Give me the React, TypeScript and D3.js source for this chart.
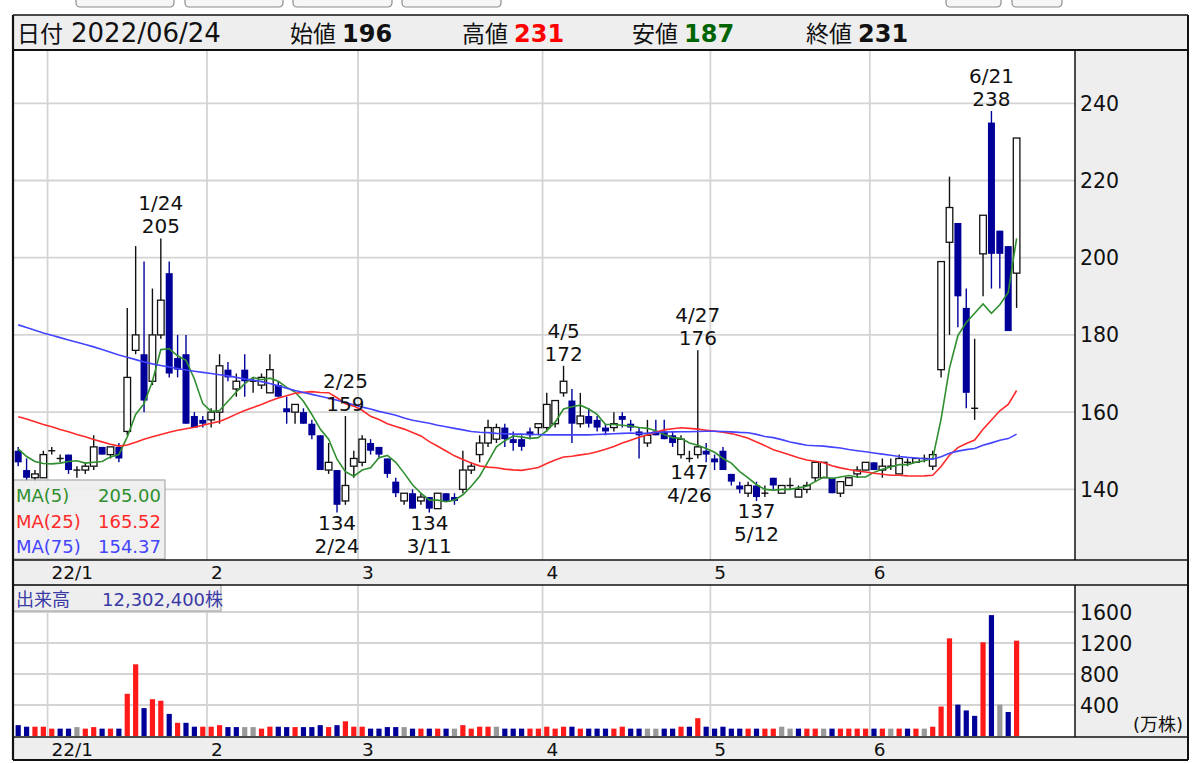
import React from 'react'
import * as d3 from 'd3'

// trading days shown on the chart
const dates = [
  '2021-12-27', '2021-12-28', '2021-12-29', '2021-12-30',
  '2022-01-04', '2022-01-05', '2022-01-06', '2022-01-07', '2022-01-11', '2022-01-12', '2022-01-13', '2022-01-14',
  '2022-01-17', '2022-01-18', '2022-01-19', '2022-01-20', '2022-01-21', '2022-01-24', '2022-01-25', '2022-01-26',
  '2022-01-27', '2022-01-28', '2022-01-31',
  '2022-02-01', '2022-02-02', '2022-02-03', '2022-02-04', '2022-02-07', '2022-02-08', '2022-02-09', '2022-02-10',
  '2022-02-14', '2022-02-15', '2022-02-16', '2022-02-17', '2022-02-18', '2022-02-21', '2022-02-22', '2022-02-24',
  '2022-02-25', '2022-02-28',
  '2022-03-01', '2022-03-02', '2022-03-03', '2022-03-04', '2022-03-07', '2022-03-08', '2022-03-09', '2022-03-10',
  '2022-03-11', '2022-03-14', '2022-03-15', '2022-03-16', '2022-03-17', '2022-03-18', '2022-03-22', '2022-03-23',
  '2022-03-24', '2022-03-25', '2022-03-28', '2022-03-29', '2022-03-30', '2022-03-31',
  '2022-04-01', '2022-04-04', '2022-04-05', '2022-04-06', '2022-04-07', '2022-04-08', '2022-04-11', '2022-04-12',
  '2022-04-13', '2022-04-14', '2022-04-15', '2022-04-18', '2022-04-19', '2022-04-20', '2022-04-21', '2022-04-22',
  '2022-04-25', '2022-04-26', '2022-04-27', '2022-04-28',
  '2022-05-02', '2022-05-06', '2022-05-09', '2022-05-10', '2022-05-11', '2022-05-12', '2022-05-13', '2022-05-16',
  '2022-05-17', '2022-05-18', '2022-05-19', '2022-05-20', '2022-05-23', '2022-05-24', '2022-05-25', '2022-05-26',
  '2022-05-27', '2022-05-30', '2022-05-31',
  '2022-06-01', '2022-06-02', '2022-06-03', '2022-06-06', '2022-06-07', '2022-06-08', '2022-06-09', '2022-06-10',
  '2022-06-13', '2022-06-14', '2022-06-15', '2022-06-16', '2022-06-17', '2022-06-20', '2022-06-21', '2022-06-22',
  '2022-06-23', '2022-06-24',
]

const opens = [
  150, 145, 143, 143, 150, 148, 149, 145, 145, 146, 151, 149, 151, 155, 176, 175, 168, 180, 196, 174,
  175, 159, 158, 158, 160, 171, 166, 171, 168, 167, 165, 167, 161, 160, 160, 157, 154, 145, 145, 137,
  146, 147, 152, 151, 148, 142, 137, 139, 137, 138, 135, 139, 138, 140, 145, 149, 152, 153, 156, 153,
  153, 155, 156, 156, 157, 165, 163, 157, 159, 158, 156, 156, 159, 157, 155, 152, 155, 155, 154, 149,
  148, 149, 150, 148, 150, 144, 141, 139, 141, 139, 143, 139, 141, 138, 140, 143, 143, 143, 139, 141,
  144, 145, 147, 145, 146, 144, 147, 147, 148, 146, 171, 204, 209, 187, 161, 201, 235, 207, 203, 196,
]
const highs = [
  151, 148, 145, 150, 151, 149, 149, 146, 147, 154, 151, 151, 152, 187, 203, 199, 192, 205, 199, 180,
  180, 160, 159, 161, 175, 173, 170, 175, 169, 170, 175, 168, 164, 162, 161, 158, 154, 152, 145, 159,
  150, 154, 153, 151, 148, 143, 139, 140, 139, 138, 139, 139, 139, 150, 147, 154, 158, 157, 157, 155,
  154, 156, 157, 165, 163, 172, 166, 165, 161, 159, 157, 160, 160, 158, 156, 158, 158, 158, 155, 154,
  150, 176, 152, 149, 151, 144, 142, 142, 142, 141, 143, 141, 143, 141, 142, 147, 147, 143, 142, 143,
  146, 147, 147, 148, 148, 149, 148, 148, 149, 150, 199, 221, 209, 192, 179, 211, 238, 207, 203, 231,
]
const lows = [
  146, 142, 142, 143, 149, 147, 144, 143, 144, 145, 149, 148, 147, 154, 175, 160, 167, 179, 169, 169,
  157, 156, 156, 156, 157, 168, 164, 164, 165, 166, 165, 164, 157, 157, 157, 153, 145, 144, 134, 136,
  143, 146, 149, 148, 143, 138, 136, 135, 136, 134, 135, 137, 136, 139, 144, 147, 151, 152, 151, 150,
  150, 153, 154, 155, 156, 164, 152, 156, 156, 155, 154, 155, 156, 155, 148, 151, 154, 153, 151, 148,
  147, 148, 147, 145, 145, 141, 139, 138, 137, 138, 140, 139, 140, 138, 139, 142, 143, 139, 138, 141,
  143, 145, 145, 143, 145, 144, 146, 147, 147, 145, 169, 180, 182, 161, 158, 190, 192, 192, 181, 187,
]
const closes = [
  147, 143, 144, 149, 150, 148, 145, 145, 146, 151, 149, 151, 148, 169, 180, 163, 180, 189, 170, 171,
  157, 156, 157, 160, 172, 169, 168, 168, 168, 169, 171, 164, 160, 162, 157, 154, 145, 147, 136, 141,
  148, 153, 150, 149, 144, 139, 139, 135, 138, 135, 139, 137, 137, 145, 146, 152, 156, 156, 153, 152,
  151, 154, 157, 162, 163, 168, 157, 159, 157, 156, 155, 157, 158, 156, 154, 154, 154, 153, 152, 153,
  148, 151, 149, 147, 145, 142, 140, 141, 138, 139, 141, 141, 141, 140, 141, 147, 147, 139, 142, 143,
  145, 147, 145, 146, 146, 148, 147, 148, 148, 149, 199, 213, 190, 165, 161, 211, 201, 201, 181, 231,
]
// volume, 万株
const volumes = [
  140, 120, 120, 120, 95, 95, 95, 115, 95, 115, 95, 95, 95, 545, 925, 360, 475, 455, 285, 170,
  170, 120, 120, 120, 140, 115, 115, 115, 115, 95, 120, 120, 115, 115, 115, 115, 140, 115, 140, 190,
  120, 120, 95, 95, 115, 115, 115, 95, 95, 95, 95, 95, 95, 140, 95, 120, 120, 120, 95, 95,
  95, 95, 95, 120, 95, 120, 120, 95, 95, 95, 95, 95, 120, 95, 95, 95, 95, 95, 95, 120,
  120, 230, 120, 95, 120, 95, 95, 95, 95, 95, 95, 120, 95, 95, 95, 95, 95, 95, 95, 95,
  95, 95, 95, 95, 95, 95, 95, 95, 95, 120, 380, 1260, 405, 330, 260, 1210, 1560, 405, 310, 1230,
]

const ma5Head = [150.5, 148.5, 147.2, 146.7]
const ma25Head = [
  158.8, 158.2, 157.5, 156.8, 156.2, 155.5, 154.9, 154.2, 153.6, 152.9, 152.3, 151.7,
  151.2, 151.5, 152.2, 153.0, 153.6, 154.2, 154.8, 155.3, 155.7, 156.1, 156.6, 157.1,
]
const ma75Head = [
  182.6, 181.9, 181.2, 180.5, 179.9, 179.3, 178.7, 178.1, 177.5, 176.9,
  176.2, 175.5, 174.8, 174.2, 173.6, 173.0, 172.5, 172.1, 171.7, 171.3,
  170.9, 170.6, 170.3, 170.0, 169.7, 169.4, 169.0, 168.6, 168.3, 167.9,
  167.4, 166.8, 166.2, 165.6, 165.1, 164.6, 164.1, 163.6, 163.1, 162.5,
  161.9, 161.3, 160.8, 160.2, 159.7, 159.2, 158.5, 157.9, 157.5, 157.1,
  156.6, 156.2, 155.8, 155.4, 155.0, 154.8, 154.7, 154.5, 154.4, 154.3,
  154.3, 154.2, 154.2, 154.1, 154.1, 154.1, 154.1, 154.1, 154.1, 154.2,
  154.3, 154.4, 154.5, 154.6,
]

const maPeriods = [5, 25, 75]
const maLegendValues = ['205.00', '165.52', '154.37']
const priceTicks = [140, 160, 180, 200, 220, 240]
const volumeTicks = [400, 800, 1200, 1600]
const highMarks = ['2022-01-24', '2022-02-25', '2022-04-05', '2022-04-27', '2022-06-21']
const lowMarks = ['2022-02-24', '2022-03-11', '2022-04-26', '2022-05-12']
const lastVolumeShares = 12302400
const headerLabels = ['日付', '始値', '高値', '安値', '終値']

const FONT = "'DejaVu Sans', 'Noto Sans CJK JP', sans-serif"
const BLUE = '#000099'
const RED = '#ff1a1a'
const GRID = '#d4d4d4'
const MA_COLORS = ['#2f8f2f', '#ff2a2a', '#4444ff']

function movingAverage(period: number, head: number[]) {
  return closes.map((_, i) => {
    if (i < head.length) return head[i]
    return d3.mean(closes.slice(i - period + 1, i + 1)) as number
  })
}

export default function App() {
  const n = dates.length
  const step = 8.39
  const left = 13, plotRight = 1075, right = 1188
  const mainTop = 50, mainBottom = 560, band1Bottom = 585, volBottom = 737, band2Bottom = 760

  const x = d3.scaleBand<string>().domain(dates).range([14, 14 + step * n])
  const cx = (i: number) => (x(dates[i]) as number) + x.bandwidth() / 2
  const y = d3.scaleLinear().domain([121.7, 253.8]).range([mainBottom, mainTop])
  const yv = d3.scaleLinear().domain([0, 1600]).range([736, 612])

  const maSeries = [
    movingAverage(maPeriods[0], ma5Head),
    movingAverage(maPeriods[1], ma25Head),
    movingAverage(maPeriods[2], ma75Head),
  ]
  const line = d3.line<number>().x((_, i) => cx(i)).y(d => y(d))

  const monthStarts = dates
    .map((_, i) => i)
    .filter(i => i > 0 && dates[i].slice(5, 7) !== dates[i - 1].slice(5, 7))
  const monthLabel = (d: string) =>
    d.slice(5, 7) === '01' ? `${d.slice(2, 4)}/${+d.slice(5, 7)}` : `${+d.slice(5, 7)}`
  const shortDate = (d: string) => `${+d.slice(5, 7)}/${+d.slice(8, 10)}`

  const volColor = (i: number) => {
    const prev = i === 0 ? opens[0] : closes[i - 1]
    if (closes[i] > prev) return RED
    if (closes[i] < prev) return BLUE
    return '#999999'
  }

  const last = n - 1
  const headerValues = [
    dates[last].replace(/-/g, '/'),
    String(opens[last]),
    String(highs[last]),
    String(lows[last]),
    String(closes[last]),
  ]
  const headerColors = ['#111', '#111', '#ff0000', '#006400', '#111']
  const headerX = [17, 290, 462, 632, 806]

  const buttons = [[76, 98], [185, 98], [293, 99], [402, 99], [946, 55], [1012, 50]]

  return (
    <svg width={1200} height={763} style={{ position: 'absolute', left: 0, top: 0, background: '#fff' }}>
      {/* partially visible buttons */}
      {buttons.map(([bx, bw], i) => (
        <rect key={i} x={bx} y={-14} width={bw} height={21} rx={4} fill="#f6f6f6" stroke="#8c8c8c" strokeWidth={1.2} />
      ))}

      {/* header */}
      <rect x={left} y={15} width={right - left} height={mainTop - 15} fill="#eeeeee" />
      {headerLabels.map((lab, i) => (
        <text key={lab} x={headerX[i]} y={42} fontFamily={FONT} fontSize={23} fill="#111">
          {lab}
          <tspan dx={i === 0 ? 8 : 6} fontSize={i === 0 ? 26 : 24} fontWeight={i === 0 ? 'normal' : 'bold'} fill={headerColors[i]}>
            {headerValues[i]}
          </tspan>
        </text>
      ))}

      {/* panels */}
      <rect x={left} y={mainTop} width={plotRight - left} height={mainBottom - mainTop} fill="#fff" />
      <rect x={plotRight} y={mainTop} width={right - plotRight} height={mainBottom - mainTop} fill="#eeeeee" />
      <rect x={left} y={mainBottom} width={right - left} height={band1Bottom - mainBottom} fill="#eeeeee" />
      <rect x={left} y={band1Bottom} width={plotRight - left} height={volBottom - band1Bottom} fill="#fff" />
      <rect x={plotRight} y={band1Bottom} width={right - plotRight} height={volBottom - band1Bottom} fill="#eeeeee" />
      <rect x={left} y={volBottom} width={right - left} height={band2Bottom - volBottom} fill="#eeeeee" />

      {/* grid */}
      {priceTicks.map(t => (
        <line key={t} x1={left} x2={plotRight} y1={y(t)} y2={y(t)} stroke={GRID} strokeWidth={1.8} />
      ))}
      {volumeTicks.map(t => (
        <line key={t} x1={left} x2={plotRight} y1={yv(t)} y2={yv(t)} stroke={GRID} strokeWidth={1.8} />
      ))}
      {monthStarts.map(i => (
        <g key={i}>
          <line x1={x(dates[i])} x2={x(dates[i])} y1={mainTop} y2={mainBottom} stroke={GRID} strokeWidth={1.8} />
          <line x1={x(dates[i])} x2={x(dates[i])} y1={band1Bottom} y2={volBottom} stroke={GRID} strokeWidth={1.8} />
        </g>
      ))}

      {/* candles */}
      {dates.map((d, i) => {
        const up = closes[i] > opens[i]
        const down = closes[i] < opens[i]
        const c = cx(i)
        const top = y(Math.max(opens[i], closes[i]))
        const bot = y(Math.min(opens[i], closes[i]))
        const col = down ? BLUE : '#111'
        return (
          <g key={d}>
            <line x1={c} x2={c} y1={y(highs[i])} y2={y(lows[i])} stroke={col} strokeWidth={1.4} />
            {up && <rect x={c - 3.3} y={top} width={6.6} height={bot - top} fill="#fff" stroke="#111" strokeWidth={1.3} />}
            {down && <rect x={c - 3.5} y={top} width={7} height={bot - top} fill={BLUE} />}
            {!up && !down && <line x1={c - 3.5} x2={c + 3.5} y1={top} y2={top} stroke="#111" strokeWidth={1.4} />}
          </g>
        )
      })}

      {/* moving averages */}
      {maSeries.map((s, k) => (
        <path key={k} d={line(s) as string} fill="none" stroke={MA_COLORS[k]} strokeWidth={1.6} />
      ))}

      {/* high / low annotations */}
      {highMarks.map(d => {
        const i = dates.indexOf(d)
        return (
          <g key={d} fontFamily={FONT} fontSize={20} fill="#111" textAnchor="middle">
            <text x={cx(i)} y={y(highs[i]) - 28}>{shortDate(d)}</text>
            <text x={cx(i)} y={y(highs[i]) - 5}>{highs[i]}</text>
          </g>
        )
      })}
      {lowMarks.map(d => {
        const i = dates.indexOf(d)
        return (
          <g key={d} fontFamily={FONT} fontSize={20} fill="#111" textAnchor="middle">
            <text x={cx(i)} y={y(lows[i]) + 17}>{lows[i]}</text>
            <text x={cx(i)} y={y(lows[i]) + 40}>{shortDate(d)}</text>
          </g>
        )
      })}

      {/* MA legend */}
      <rect x={left} y={480} width={152} height={79} fill="rgba(238,238,238,0.9)" stroke="#aaaaaa" strokeWidth={1.2} />
      {maPeriods.map((p, k) => (
        <g key={p} fontFamily={FONT} fontSize={18} fill={MA_COLORS[k]}>
          <text x={16} y={502 + k * 25.5}>{`MA(${p})`}</text>
          <text x={161} y={502 + k * 25.5} textAnchor="end">{maLegendValues[k]}</text>
        </g>
      ))}

      {/* price axis */}
      {priceTicks.map(t => (
        <text key={t} x={1080} y={y(t) + 7.5} fontFamily={FONT} fontSize={20.5} fill="#111">{t}</text>
      ))}

      {/* month labels */}
      {monthStarts.map(i => (
        <g key={i} fontFamily={FONT} fontSize={18.5} fill="#111">
          <text x={(x(dates[i]) as number) + 4} y={579}>{monthLabel(dates[i])}</text>
          <text x={(x(dates[i]) as number) + 4} y={756}>{monthLabel(dates[i])}</text>
        </g>
      ))}

      {/* volume bars */}
      {volumes.map((v, i) => (
        <rect key={i} x={cx(i) - 2.6} y={yv(v)} width={5.2} height={yv(0) - yv(v)} fill={volColor(i)} />
      ))}
      {volumeTicks.map(t => (
        <text key={t} x={1080} y={yv(t) + 7.5} fontFamily={FONT} fontSize={20.5} fill="#111">{t}</text>
      ))}
      <text x={1183} y={731} textAnchor="end" fontFamily={FONT} fontSize={18} fill="#111">(万株)</text>

      {/* volume label */}
      <rect x={left} y={band1Bottom} width={208} height={26} fill="#eeeeee" stroke="#aaaaaa" strokeWidth={1.2} />
      <text x={16} y={606} fontFamily={FONT} fontSize={18} fill="#3a3aa6">
        出来高
        <tspan x={102}>{d3.format(',')(lastVolumeShares)}株</tspan>
      </text>

      {/* frame */}
      <g stroke="#111">
        <line x1={left} x2={right} y1={15} y2={15} strokeWidth={1.5} />
        <line x1={left} x2={right} y1={mainTop} y2={mainTop} strokeWidth={2} />
        <line x1={left} x2={right} y1={mainBottom} y2={mainBottom} strokeWidth={1.5} />
        <line x1={left} x2={right} y1={band1Bottom} y2={band1Bottom} strokeWidth={1.5} />
        <line x1={left} x2={right} y1={volBottom} y2={volBottom} strokeWidth={1.5} />
        <line x1={left} x2={right} y1={band2Bottom} y2={band2Bottom} strokeWidth={2} />
        <line x1={left} x2={left} y1={15} y2={band2Bottom} strokeWidth={2.2} />
        <line x1={right} x2={right} y1={15} y2={band2Bottom} strokeWidth={2} />
        <line x1={plotRight} x2={plotRight} y1={mainTop} y2={mainBottom} strokeWidth={1.5} />
        <line x1={plotRight} x2={plotRight} y1={band1Bottom} y2={volBottom} strokeWidth={1.5} />
      </g>
    </svg>
  )
}
